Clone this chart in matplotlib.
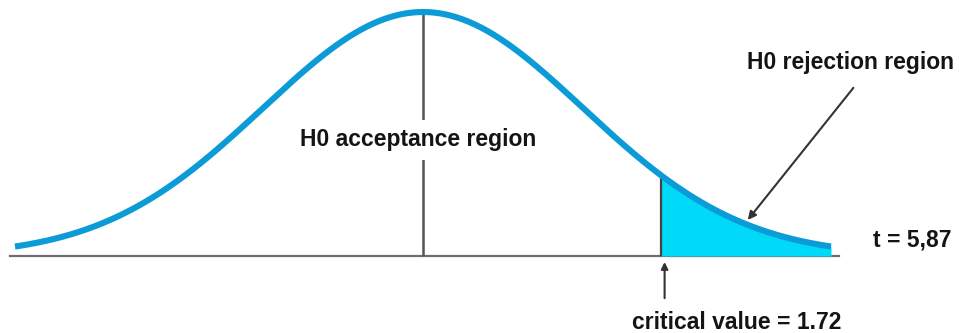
import numpy as np
import matplotlib
matplotlib.use("Agg")
import matplotlib.pyplot as plt

# curve is a standard normal drawn over +-2.55 sigma
curve_lo, curve_hi = -2.55, 2.55
critical_pos = 1.49          # where the critical value sits on the axis
axis_lo, axis_hi = -2.58, 2.60

label_accept = "H0 acceptance region"
label_reject = "H0 rejection region"
label_t = "t = 5,87"
label_crit = "critical value = 1.72"

plt.rcParams["font.family"] = ["Liberation Sans", "DejaVu Sans"]


def pdf(x):
    return np.exp(-x ** 2 / 2) / np.sqrt(2 * np.pi)


fig = plt.figure(figsize=(9.63, 3.33), dpi=100)
ax = fig.add_axes([0, 0, 1, 1])
ax.set_xlim(-423 / 160, 540 / 160)
ax.set_ylim(-77 / 611.6, 256 / 611.6)
ax.axis("off")

x = np.linspace(curve_lo, curve_hi, 400)
y = pdf(x)

# baseline
ax.plot([axis_lo, axis_hi], [0, 0], color="#6e6e6e", lw=1.6, zorder=1)

# center line and critical line
ax.vlines(0, 0, pdf(0), color="#555555", lw=1.8, zorder=1)
ax.vlines(critical_pos, 0, pdf(critical_pos), color="#444444", lw=1.6, zorder=3)

# rejection region
xs = np.linspace(critical_pos, curve_hi, 200)
ax.fill_between(xs, 0, pdf(xs), color="#00d9f7", lw=0, zorder=2)

ax.plot(x, y, color="#0b9bd7", lw=4.4, solid_capstyle="butt", zorder=4)

txt_kw = dict(fontsize=16.5, fontweight="bold", color="#141414", ha="center", va="center")
ax.text(-0.03, 0.190, label_accept, zorder=5,
        bbox=dict(facecolor="white", edgecolor="none", pad=6), **txt_kw)
ax.text(2.67, 0.3156, label_reject, **txt_kw)
ax.text(3.06, 0.026, label_t, **txt_kw)
ax.text(1.96, -0.108, label_crit, **txt_kw)

ax.annotate("", xy=(2.03, 0.059), xytext=(2.69, 0.275),
            arrowprops=dict(arrowstyle="-|>", color="#333333", lw=1.5,
                            mutation_scale=12, shrinkA=0, shrinkB=0), zorder=6)
ax.annotate("", xy=(1.51, -0.0098), xytext=(1.51, -0.069),
            arrowprops=dict(arrowstyle="-|>", color="#333333", lw=1.5,
                            mutation_scale=10, shrinkA=0, shrinkB=0), zorder=6)

fig.savefig("out.png", dpi=100)
